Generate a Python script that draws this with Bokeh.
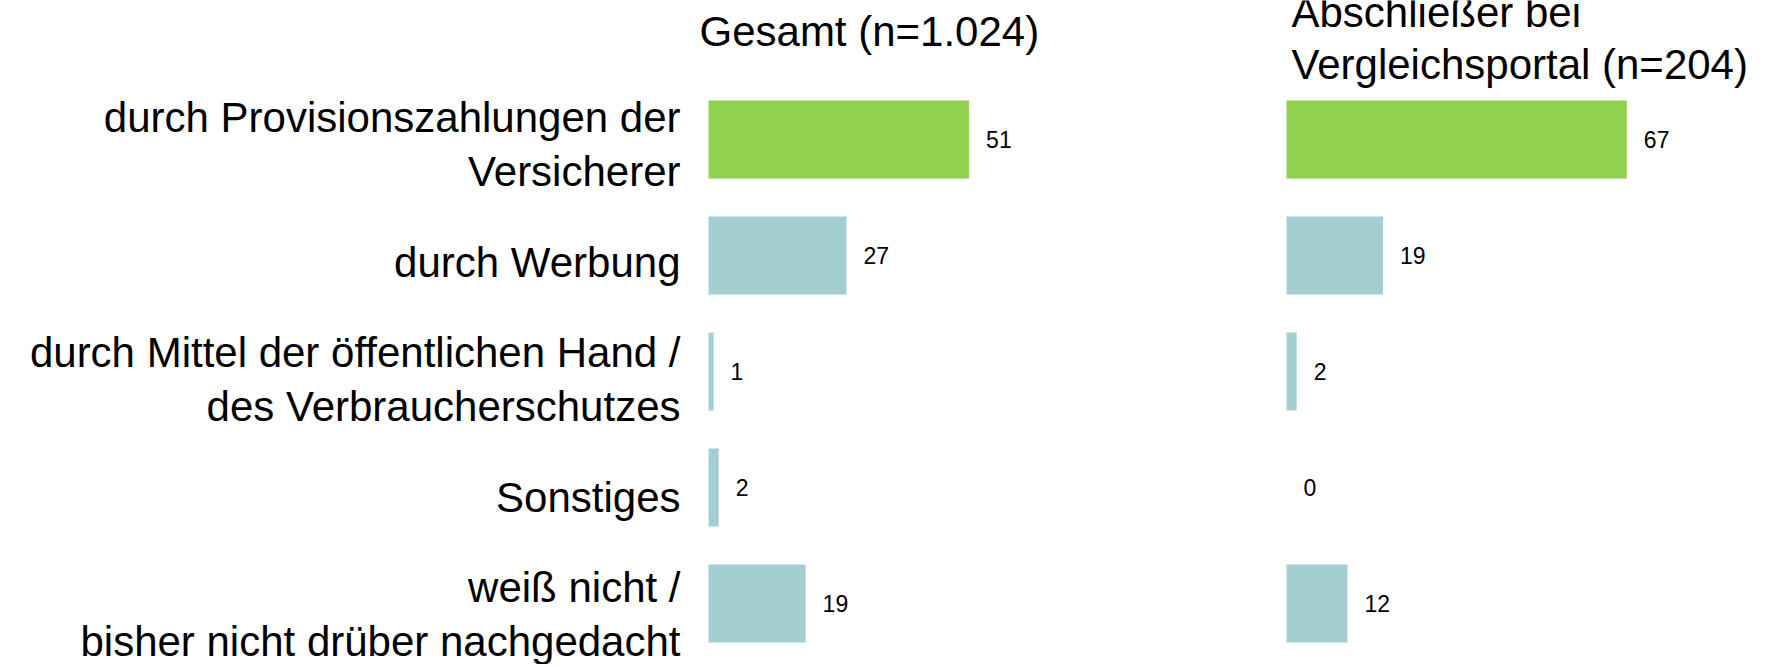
from bokeh.plotting import figure
from bokeh.models import ColumnDataSource, Range1d
from bokeh.layouts import row
from bokeh.embed import file_html
from bokeh.resources import INLINE
from bokeh.core.properties import value

categories = [
    "durch Provisionszahlungen der\nVersicherer",
    "durch Werbung",
    "durch Mittel der öffentlichen Hand /\ndes Verbraucherschutzes",
    "Sonstiges",
    "weiß nicht /\nbisher nicht drüber nachgedacht",
]
gesamt = [51, 27, 1, 2, 19]
vergleich = [67, 19, 2, 0, 12]
title_left = "Gesamt (n=1.024)"
title_right = "Abschließer bei\nVergleichsportal (n=204)"

GREEN = "#92D050"
TEAL = "#A3CED2"
FONT = "Liberation Sans"
colors = [GREEN] + [TEAL] * (len(categories) - 1)

H = 664
ROW_PX = 116.0
TOP_CENTER = 139.0


def ydata(px):
    return (px - TOP_CENTER) / ROW_PX


def make_fig(width, bar_px, px_per_unit):
    x0 = -bar_px / px_per_unit
    x1 = (width - bar_px) / px_per_unit
    p = figure(width=width, height=H, output_backend="svg", toolbar_location=None,
               x_range=Range1d(x0, x1),
               y_range=Range1d(start=ydata(H), end=ydata(0)),
               x_axis_location=None, y_axis_location=None,
               min_border=0, outline_line_color=None,
               background_fill_color="white", border_fill_color="white")
    p.grid.visible = False
    return p


def add_bars(p, vals):
    src = ColumnDataSource(dict(y=list(range(len(vals))), v=vals,
                                lbl=[str(v) for v in vals], c=colors))
    p.hbar(y="y", left=0, right="v", height=0.672, fill_color="c",
           line_color=None, source=src)
    p.text(x="v", y="y", text="lbl", source=src, x_offset=17,
           text_font=value(FONT), text_font_size="23px", text_color="black",
           text_align="left", text_baseline="middle")


p1 = make_fig(1278, 708, 5.11)
add_bars(p1, gesamt)
idx = list(range(len(categories)))
cat_src = ColumnDataSource(dict(y=idx, t=categories,
                                dy=[5 + 1.5 * i for i in idx]))
p1.text(x=0, y="y", text="t", source=cat_src, x_offset=-28, y_offset="dy",
        text_font=value(FONT), text_font_size="42px", text_color="black",
        text_align="right", text_baseline="middle", text_line_height=1.15)
p1.text(x=[0], y=[ydata(31)], text=[title_left], x_offset=-9,
        text_font=value(FONT), text_font_size="42px", text_color="black",
        text_align="left", text_baseline="alphabetic")

p2 = make_fig(487, 8, 5.08)
add_bars(p2, vergleich)
p2.text(x=[0], y=[ydata(88)], text=[title_right], x_offset=5,
        text_font=value(FONT), text_font_size="42px", text_color="black",
        text_align="left", text_baseline="bottom", text_line_height=1.12)

layout = row(p1, p2)
open("out.html", "w").write(file_html(layout, INLINE))
